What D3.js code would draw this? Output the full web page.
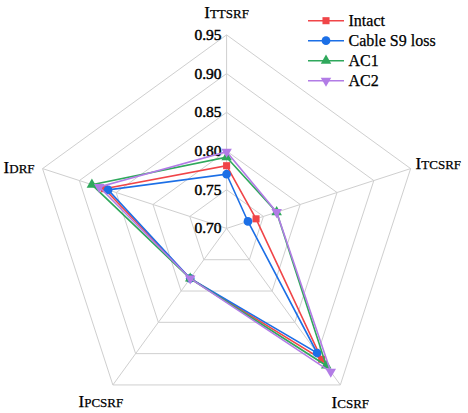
<!DOCTYPE html>
<html>
<head>
<meta charset="utf-8">
<script src="https://cdn.jsdelivr.net/npm/d3@7"></script>
<style>
  body { margin: 0; background: #fff; }
  text { font-family: "Liberation Serif", "Times New Roman", serif; fill: #000; stroke: #000; stroke-width: 0.25; }
</style>
</head>
<body>
<svg class="plot" width="468" height="413"></svg>
<script>
  var width = 468
  var height = 413

  // axes, clockwise from the top
  const axes = [["I", "TTSRF"], ["I", "TCSRF"], ["I", "CSRF"], ["I", "PCSRF"], ["I", "DRF"]]
  const ticks = [0.70, 0.75, 0.80, 0.85, 0.90, 0.95]
  const seriesNames = ["Intact", "Cable S9 loss", "AC1", "AC2"]
  const intact = [0.781, 0.740, 0.909, 0.780, 0.866]
  const cableS9 = [0.770, 0.729, 0.899, 0.780, 0.861]
  const ac1 = [0.792, 0.768, 0.919, 0.780, 0.883]
  const ac2 = [0.799, 0.768, 0.929, 0.780, 0.873]

  const colors = ["#f04548", "#1c6fe6", "#2fa85c", "#b27ce6"]
  const symbols = [d3.symbolSquare, d3.symbolCircle, d3.symbolTriangle, d3.symbolTriangle]
  const symSize = [50, 60, 48, 48]
  const symRot = [0, 0, 0, 180]
  const data = [intact, cableS9, ac1, ac2]

  const cx = 226.6, cy = 228.4, R = 193.5
  const svg = d3.select("svg.plot")
  const g = svg.append("g").attr("transform", "translate(" + cx + "," + cy + ")")

  const rScale = d3.scaleLinear().domain([0.70, 0.95]).range([0, R])
  const angle = d3.scaleLinear().domain([0, axes.length]).range([0, 2 * Math.PI])
  const pt = (i, v) => [rScale(v) * Math.sin(angle(i)), -rScale(v) * Math.cos(angle(i))]

  // grid pentagons
  ticks.slice(1).forEach(t => {
    g.append("path")
      .attr("d", d3.lineRadial().angle((d, i) => angle(i)).radius(() => rScale(t)).curve(d3.curveLinearClosed)(axes))
      .attr("fill", "none")
      .attr("stroke", "#cfcfcf")
      .attr("stroke-width", 1)
  })
  // spokes
  axes.forEach((a, i) => {
    var p = pt(i, 0.95)
    g.append("line")
      .attr("x1", 0).attr("y1", 0)
      .attr("x2", p[0]).attr("y2", p[1])
      .attr("stroke", "#cfcfcf")
      .attr("stroke-width", 1)
  })

  // tick labels along the top axis
  ticks.forEach(t => {
    g.append("text")
      .attr("x", -5)
      .attr("y", -rScale(t) + 5)
      .attr("text-anchor", "end")
      .attr("font-size", 15.5)
      .style("stroke-width", 0.45)
      .text(d3.format(".2f")(t))
  })

  // axis labels
  const labelPos = [
    { dx: 0, dy: -17, anchor: "middle" },
    { dx: 5, dy: 0, anchor: "start" },
    { dx: 10, dy: 23, anchor: "middle" },
    { dx: -12, dy: 22, anchor: "middle" },
    { dx: -8, dy: 4.5, anchor: "end" }
  ]
  axes.forEach((a, i) => {
    var p = pt(i, 0.95)
    var lp = labelPos[i]
    var t = g.append("text")
      .attr("x", p[0] + lp.dx)
      .attr("y", p[1] + lp.dy)
      .attr("text-anchor", lp.anchor)
    t.append("tspan").attr("font-size", 17).text(a[0])
    t.append("tspan").attr("font-size", 13).text(a[1])
  })

  // series
  data.forEach((vals, s) => {
    g.append("path")
      .attr("d", d3.lineRadial().angle((d, i) => angle(i)).radius(d => rScale(d)).curve(d3.curveLinearClosed)(vals))
      .attr("fill", "none")
      .attr("stroke", colors[s])
      .attr("stroke-width", 1.6)
    vals.forEach((v, i) => {
      var p = pt(i, v)
      g.append("path")
        .attr("d", d3.symbol().type(symbols[s]).size(symSize[s])())
        .attr("transform", "translate(" + p[0] + "," + p[1] + ") rotate(" + symRot[s] + ")")
        .attr("fill", colors[s])
    })
  })

  // legend
  var legY = 20.7
  seriesNames.forEach((name, s) => {
    var y = legY + s * 20
    svg.append("line")
      .attr("x1", 308).attr("x2", 344)
      .attr("y1", y).attr("y2", y)
      .attr("stroke", colors[s])
      .attr("stroke-width", 1.6)
    svg.append("path")
      .attr("d", d3.symbol().type(symbols[s]).size(symSize[s])())
      .attr("transform", "translate(326," + y + ") rotate(" + symRot[s] + ")")
      .attr("fill", colors[s])
    svg.append("text")
      .attr("x", 348.5)
      .attr("y", y + 5)
      .attr("font-size", 16)
      .text(name)
  })
</script>
</body>
</html>
